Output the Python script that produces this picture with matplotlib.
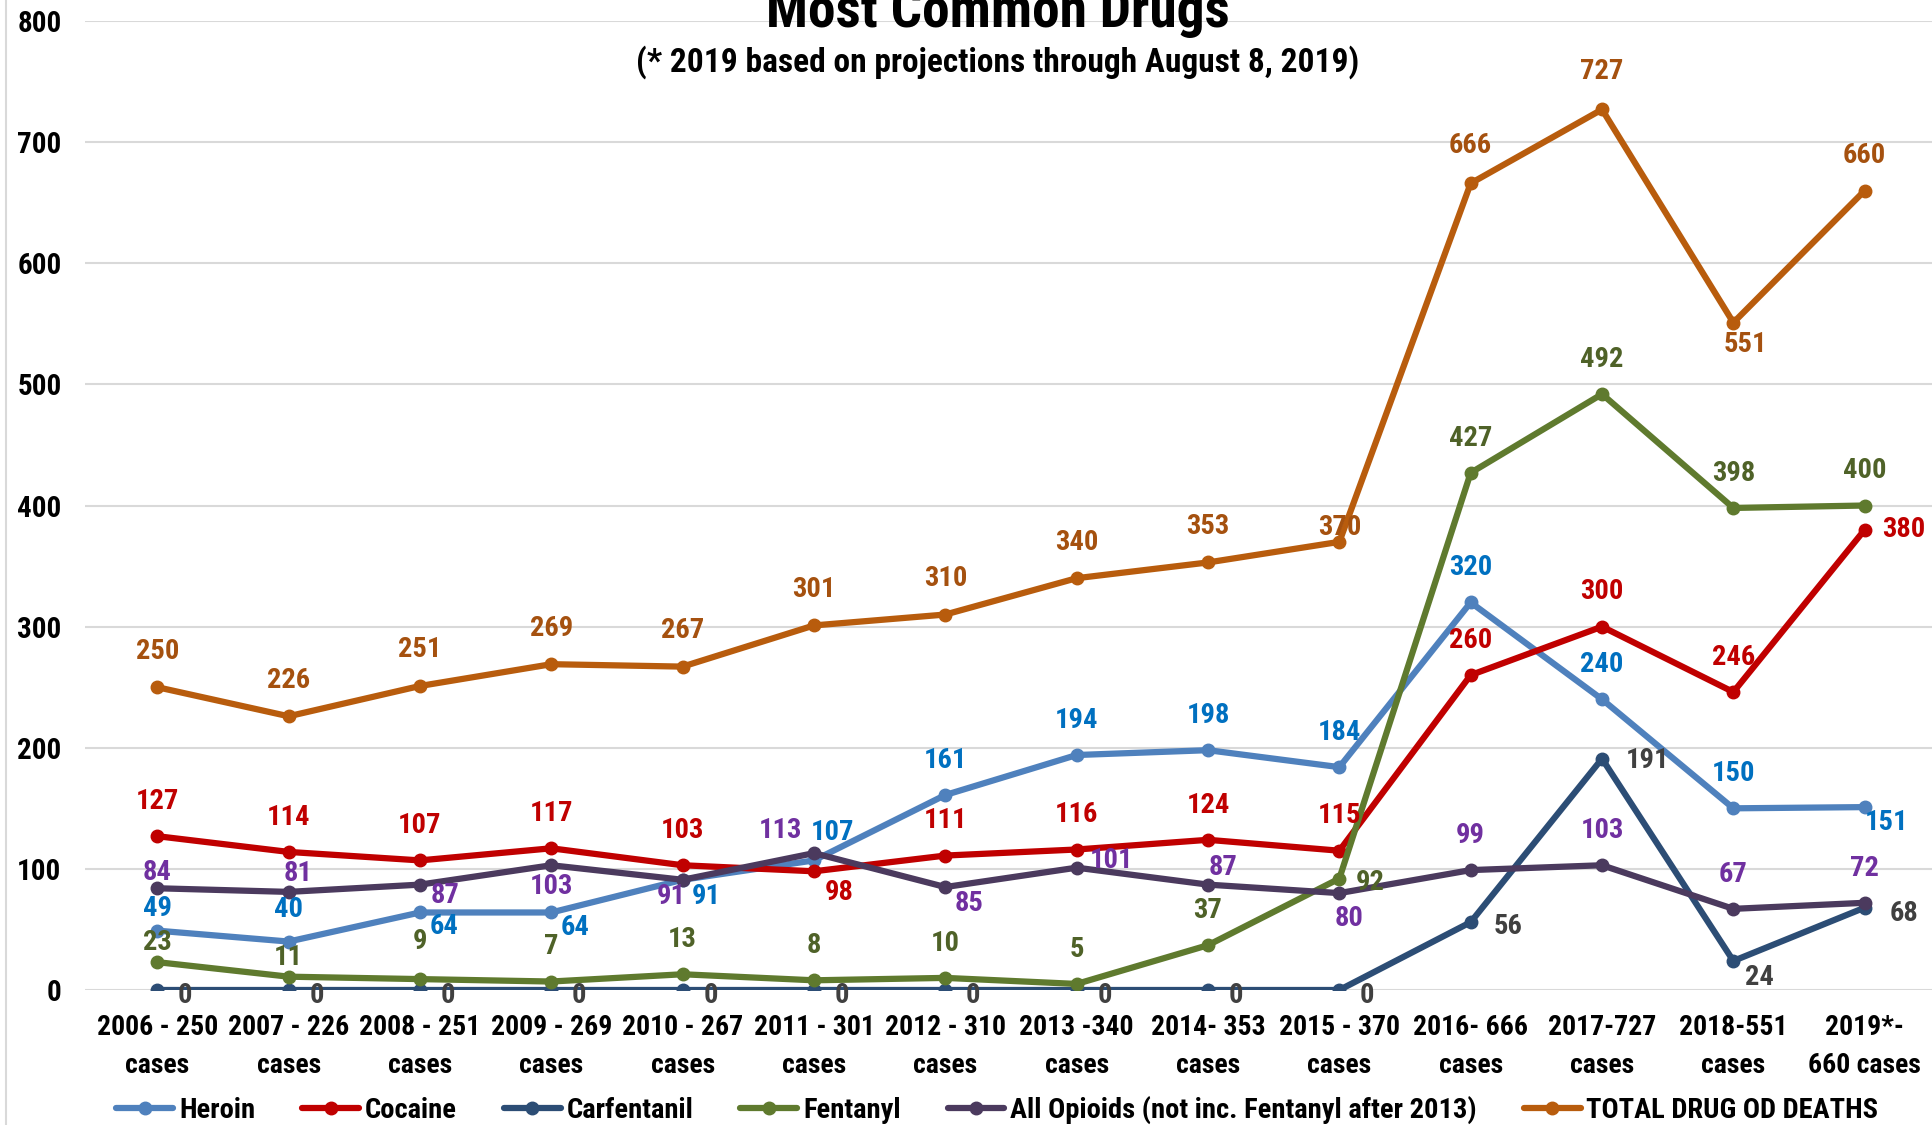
import matplotlib
matplotlib.use("Agg")
import matplotlib.pyplot as plt
from matplotlib.lines import Line2D
from matplotlib import font_manager

# pick a narrow family if one is installed, otherwise Lato
installed = {f.name for f in font_manager.fontManager.ttflist}
family = next((f for f in ['Liberation Sans Narrow', 'Roboto Condensed', 'Open Sans Condensed', 'Lato']
               if f in installed), 'DejaVu Sans')
plt.rcParams['font.family'] = [family, 'DejaVu Sans']
plt.rcParams['font.weight'] = 'bold'

# data
categories = ["2006 - 250\ncases", "2007 - 226\ncases", "2008 - 251\ncases", "2009 - 269\ncases",
              "2010 - 267\ncases", "2011 - 301\ncases", "2012 - 310\ncases", "2013 -340\ncases",
              "2014- 353\ncases", "2015 - 370\ncases", "2016- 666\ncases", "2017-727\ncases",
              "2018-551\ncases", "2019*-\n660 cases"]
heroin = [49, 40, 64, 64, 91, 107, 161, 194, 198, 184, 320, 240, 150, 151]
cocaine = [127, 114, 107, 117, 103, 98, 111, 116, 124, 115, 260, 300, 246, 380]
carfentanil = [0, 0, 0, 0, 0, 0, 0, 0, 0, 0, 56, 191, 24, 68]
fentanyl = [23, 11, 9, 7, 13, 8, 10, 5, 37, 92, 427, 492, 398, 400]
opioids = [84, 81, 87, 103, 91, 113, 85, 101, 87, 80, 99, 103, 67, 72]
total = [250, 226, 251, 269, 267, 301, 310, 340, 353, 370, 666, 727, 551, 660]

names = ["Heroin", "Cocaine", "Carfentanil", "Fentanyl",
         "All Opioids (not inc. Fentanyl after 2013)", "TOTAL DRUG OD DEATHS"]

# label offsets in points (dx, dy)
up = (0, 25)
off_heroin = [(0, 16), (0, 23), (17, -10), (17, -11), (17, -12), (13, 20), up, up, up, up, up, up, up, (16, -11)]
off_cocaine = [up, up, up, up, up, (18, -15), up, up, up, up, up, up, up, (28, 0)]
off_carf = [(20, -4)] * 10 + [(27, -3), (33, -1), (19, -12), (28, -4)]
off_fent = [(0, 14), (0, 14), (0, 27), up, up, up, up, up, up, (22, -3), up, up, up, up]
off_opi = [(0, 11), (7, 13), (18, -8), (0, -15), (-8, -12), (-24, 16), (17, -12), (25, 5), (11, 12),
           (7, -18), up, up, up, up]
off_total = [(0, 26)] * 9 + [(0, 10), (0, 27), (0, 27), (9, -16), (0, 25)]

series = [
    (heroin, "#4F81BD", "#0070C0", off_heroin),
    (cocaine, "#C00000", "#C00000", off_cocaine),
    (carfentanil, "#2C4D75", "#404040", off_carf),
    (fentanyl, "#5F7A2E", "#4F6228", off_fent),
    (opioids, "#4B3A5E", "#7030A0", off_opi),
    (total, "#B85C0D", "#A5510F", off_total),
]

fig = plt.figure(figsize=(19.33, 11.25), dpi=100)
ax = fig.add_axes([0.044, 0.12, 0.956, 0.8613])

x = list(range(len(categories)))
handles = []
for (vals, lc, tc, offs), name in zip(series, names):
    h, = ax.plot(x, vals, color=lc, lw=4.5, marker='o', markersize=9, label=name,
                 solid_capstyle='round', zorder=3)
    handles.append(h)
    for xi, v, o in zip(x, vals, offs):
        ax.annotate(str(v), (xi, v), xytext=o, textcoords='offset points',
                    ha='center', va='center', color=tc, fontsize=20.5, fontweight='bold', zorder=4)

ax.set_xlim(-0.55, 13.52)
ax.set_ylim(0, 800)
ax.set_yticks(range(0, 801, 100))
ax.set_xticks(x)
ax.set_xticklabels(categories, fontsize=20, fontweight='bold', linespacing=1.55)
ax.tick_params(axis='y', labelsize=21, length=0, pad=17)
ax.tick_params(axis='x', length=0, pad=17)
ax.grid(axis='y', color='#D9D9D9', lw=1.5)
ax.set_axisbelow(True)
for s in ax.spines.values():
    s.set_visible(False)

fig.text(0.516, 0.976, "Most Common Drugs", ha='center', va='baseline', fontsize=40, fontweight='bold')
fig.text(0.516, 0.945, "(* 2019 based on projections through August 8, 2019)",
         ha='center', va='center', fontsize=24, fontweight='bold')

# left border of chart area
fig.add_artist(Line2D([0.003, 0.003], [0, 1], transform=fig.transFigure, color='#D9D9D9', lw=1.5))

fig.legend(handles=handles, loc='center', bbox_to_anchor=(0.516, 0.013), ncol=6, frameon=False,
           fontsize=20.5, handlelength=2.0, columnspacing=1.65, handletextpad=0.2)

fig.savefig("out.png", dpi=100)
